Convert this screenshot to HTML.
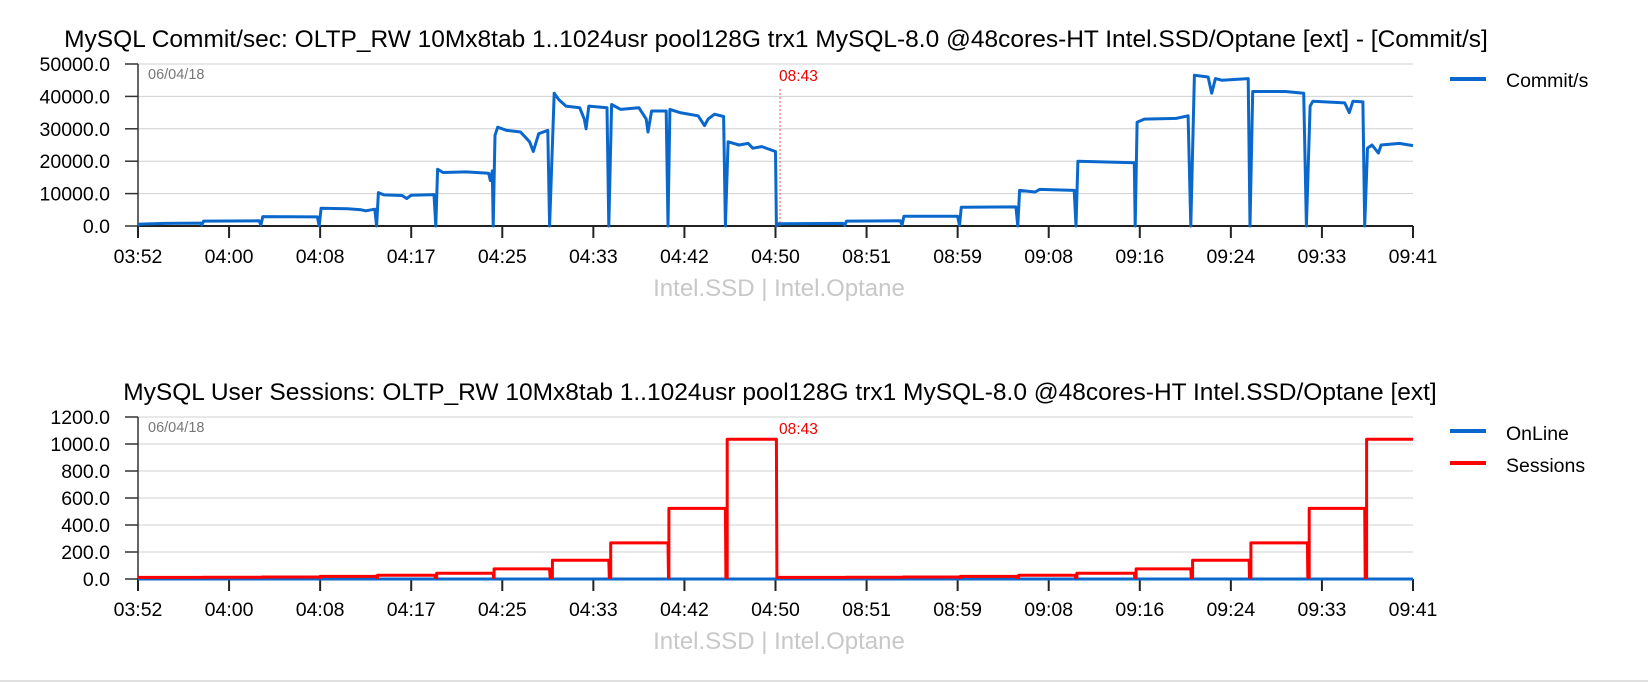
<!DOCTYPE html>
<html><head><meta charset="utf-8"><style>
body{margin:0;background:#fff;width:1648px;height:682px;overflow:hidden;font-family:"Liberation Sans",sans-serif}
svg{display:block}
</style></head><body>
<svg id="svg" width="1648" height="682" viewBox="0 0 1648 682" xmlns="http://www.w3.org/2000/svg"></svg>
<script>
const xTickLabels=["03:52","04:00","04:08","04:17","04:25","04:33","04:42","04:50","08:51","08:59","09:08","09:16","09:24","09:33","09:41"];
const commitTicks=[0,10000,20000,30000,40000,50000];
const sessionTicks=[0,200,400,600,800,1000,1200];
const commitPoints=[[0,0],[0.02,600],[0.3,800],[0.69,900],[0.7,300],[0.72,1500],[1.33,1600],[1.35,300],[1.37,2900],[1.97,2800],[1.99,0],[2.01,5500],[2.3,5300],[2.45,5000],[2.5,4700],[2.6,5200],[2.62,0],[2.64,10300],[2.7,9600],[2.9,9400],[2.95,8500],[3.0,9500],[3.25,9700],[3.27,0],[3.29,17500],[3.35,16500],[3.6,16700],[3.85,16300],[3.87,14000],[3.89,17000],[3.9,0],[3.92,28000],[3.95,30500],[4.05,29500],[4.2,29000],[4.3,26000],[4.34,23000],[4.4,28500],[4.5,29500],[4.52,0],[4.57,41000],[4.62,39000],[4.7,37000],[4.85,36500],[4.9,33000],[4.92,30000],[4.95,37000],[5.15,36500],[5.17,0],[5.2,37500],[5.3,36000],[5.5,36500],[5.58,33000],[5.6,29000],[5.64,35500],[5.8,35500],[5.82,0],[5.84,36000],[5.95,35000],[6.15,34000],[6.22,31000],[6.26,33000],[6.33,34500],[6.43,33800],[6.45,0],[6.48,26000],[6.6,25000],[6.7,25500],[6.75,24000],[6.85,24500],[7.0,23000],[7.01,0],[7.03,700],[7.74,800],[7.76,200],[7.78,1500],[8.37,1600],[8.39,300],[8.41,3000],[9.0,3000],[9.02,200],[9.04,5800],[9.64,5900],[9.66,0],[9.68,11000],[9.85,10500],[9.9,11300],[10.28,11000],[10.3,0],[10.32,20000],[10.94,19500],[10.95,0],[10.97,32000],[11.05,33000],[11.4,33200],[11.53,34000],[11.56,0],[11.6,46500],[11.75,46000],[11.79,41000],[11.83,45500],[11.9,45000],[12.19,45500],[12.21,0],[12.24,41500],[12.6,41500],[12.8,41000],[12.83,0],[12.87,37000],[12.9,38500],[13.25,38000],[13.3,35000],[13.34,38500],[13.45,38300],[13.47,0],[13.5,24000],[13.55,25000],[13.62,22500],[13.65,25000],[13.85,25500],[14,24800]];
const sessStart=[0,0.71,1.36,2.0,2.63,3.28,3.91,4.55,5.19,5.83,6.47,7.02,7.77,8.4,9.03,9.67,10.31,10.96,11.58,12.22,12.86,13.49];
const sessEnd=[0.7,1.35,1.99,2.61,3.26,3.9,4.52,5.17,5.82,6.45,7.01,7.75,8.38,9.01,9.65,10.29,10.94,11.56,12.2,12.84,13.47,14];
const sessValues=[1,2,4,8,16,32,64,128,256,512,1024,1,2,4,8,16,32,64,128,256,512,1024];
const onlineValues=[0,0];
const markerPos=7.05;

const NS="http://www.w3.org/2000/svg";
const svg=document.getElementById('svg');
function mk(tag,attrs,parent){const e=document.createElementNS(NS,tag);for(const k in attrs)e.setAttribute(k,attrs[k]);(parent||svg).appendChild(e);return e;}
function txt(s,attrs,parent){const e=mk('text',attrs,parent);e.textContent=s;return e;}
const L=138,R=1413,N=14;
const xs=t=>L+(R-L)*t/N;

function chart(top,bottom,ymax,ticks,title,titleX,name){
  const g=mk('g',{});
  
  
  const ys=v=>bottom-(bottom-top)*v/ymax;
  const t=txt(title,{x:titleX,y:top-17,'font-size':24.5,fill:'#000','text-anchor':'middle'},g);
  
  
  ticks.forEach(v=>{
    const gl=mk('line',{x1:L,x2:R,y1:ys(v),y2:ys(v),stroke:'#d0d0d0','stroke-width':1},g);
    
    
    mk('line',{x1:L-13,x2:L,y1:ys(v),y2:ys(v),stroke:'#333','stroke-width':1.5},g);
    const tl=txt(v.toFixed(1),{x:L-28,y:ys(v)+7,'font-size':19.5,'text-anchor':'end',fill:'#000'},g);
    
    
  });
  mk('line',{x1:L,x2:L,y1:top,y2:bottom+12,stroke:'#333','stroke-width':1.5},g);
  mk('line',{x1:L,x2:R,y1:bottom,y2:bottom,stroke:'#222','stroke-width':2},g);
  xTickLabels.forEach((s,i)=>{
    mk('line',{x1:xs(i),x2:xs(i),y1:bottom,y2:bottom+12,stroke:'#222','stroke-width':2},g);
    const xl=txt(s,{x:xs(i),y:bottom+37,'font-size':19.5,'text-anchor':'middle',fill:'#000'},g);
    
    
  });
  const d=txt('06/04/18',{x:L+10,y:top+15,'font-size':14.5,fill:'#777'},g);
  
  
  const m=txt('08:43',{x:xs(markerPos)-1,y:top+17,'font-size':15.5,fill:'#e00'},g);
  
  
  const sub=txt('Intel.SSD | Intel.Optane',{x:779,y:bottom+70,'font-size':24,'text-anchor':'middle',fill:'#c8c8c8'},g);
  
  
  return {g,ys};
}

// top chart
const c1=chart(64,226,50000,commitTicks,'MySQL Commit/sec: OLTP_RW 10Mx8tab 1..1024usr pool128G trx1 MySQL-8.0 @48cores-HT Intel.SSD/Optane [ext] - [Commit/s]',776,'commit-chart');
const ml1=mk('line',{x1:xs(markerPos),x2:xs(markerPos),y1:89,y2:226,stroke:'#e55','stroke-width':1,'stroke-dasharray':'2,2'},c1.g);


const p1=mk('polyline',{points:commitPoints.map(p=>xs(p[0]).toFixed(1)+','+c1.ys(p[1]).toFixed(1)).join(' '),fill:'none',stroke:'#0a68cc','stroke-width':3,'stroke-linejoin':'round'},c1.g);


const lg1=mk('line',{x1:1450,x2:1486,y1:79,y2:79,stroke:'#0a68cc','stroke-width':4});


const lt1=txt('Commit/s',{x:1506,y:87,'font-size':19.5,fill:'#000'});



// bottom chart
const c2=chart(417,579,1200,sessionTicks,'MySQL User Sessions: OLTP_RW 10Mx8tab 1..1024usr pool128G trx1 MySQL-8.0 @48cores-HT Intel.SSD/Optane [ext]',780,'sessions-chart');
const pts=[];
sessValues.forEach((v,i)=>{pts.push([sessStart[i],v]);pts.push([sessEnd[i],v]);if(i<sessValues.length-1){pts.push([sessEnd[i]+0.005,0]);pts.push([sessStart[i+1],0]);}});
const pOn=mk('polyline',{points:[[0,onlineValues[0]],[14,onlineValues[1]]].map(p=>xs(p[0])+','+c2.ys(p[1])).join(' '),fill:'none',stroke:'#0a68cc','stroke-width':3},c2.g);


const p2=mk('polyline',{points:pts.map(p=>xs(p[0]).toFixed(1)+','+(c2.ys(p[1])-1.5).toFixed(1)).join(' '),fill:'none',stroke:'#f00','stroke-width':3,'stroke-linejoin':'round'},c2.g);


const lg2=mk('line',{x1:1450,x2:1486,y1:431,y2:431,stroke:'#0a68cc','stroke-width':4});


const lt2=txt('OnLine',{x:1506,y:440,'font-size':19.5,fill:'#000'});


const lg3=mk('line',{x1:1450,x2:1486,y1:463,y2:463,stroke:'#f00','stroke-width':4});


const lt3=txt('Sessions',{x:1506,y:472,'font-size':19.5,fill:'#000'});


const bl=mk('line',{x1:0,x2:1648,y1:681,y2:681,stroke:'#e0e0e0','stroke-width':2});


</script>
</body></html>
